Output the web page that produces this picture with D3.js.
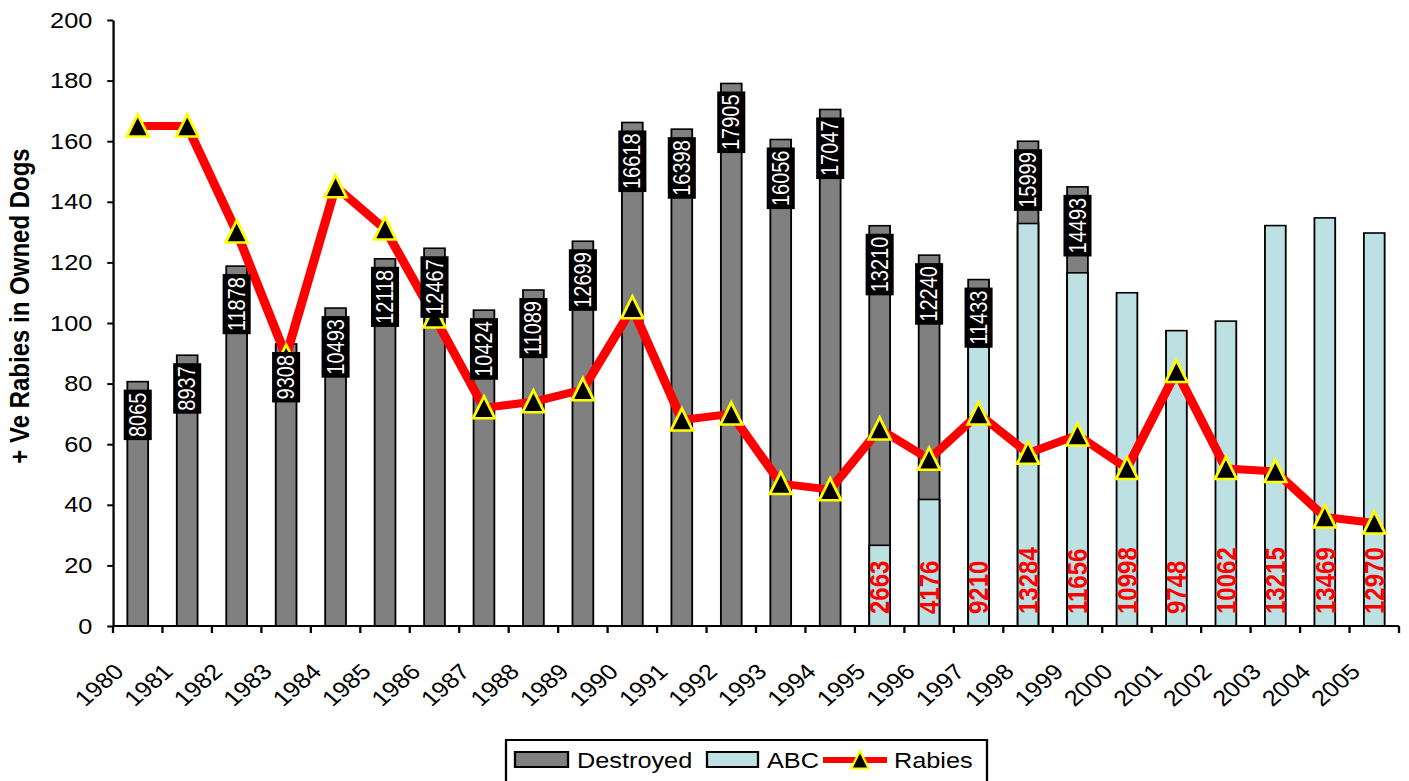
<!DOCTYPE html>
<html>
<head>
<meta charset="utf-8">
<script src="https://cdn.jsdelivr.net/npm/d3@7"></script>
<style>
  body { margin: 0; background: #fff; }
  svg { display: block; }
  text { font-family: Arial, "Liberation Sans", sans-serif; }
</style>
</head>
<body>
<div id="chart"></div>
<script>
var years = ["1980", "1981", "1982", "1983", "1984", "1985", "1986", "1987", "1988", "1989",
             "1990", "1991", "1992", "1993", "1994", "1995", "1996", "1997", "1998", "1999",
             "2000", "2001", "2002", "2003", "2004", "2005"]

var destroyed = [8065, 8937, 11878, 9308, 10493, 12118, 12467, 10424, 11089, 12699,
                 16618, 16398, 17905, 16056, 17047, 13210, 12240, 11433, 15999, 14493,
                 null, null, null, null, null, null]

var abc = [null, null, null, null, null, null, null, null, null, null,
           null, null, null, null, null, 2663, 4176, 9210, 13284, 11656,
           10998, 9748, 10062, 13215, 13469, 12970]

var rabies = [165, 165, 130, 89, 145, 131, 102, 72, 74, 78,
              105, 68, 70, 47, 45, 65, 55, 70, 57, 63,
              52, 84, 52, 51, 36, 34]

var yTicks = [0, 20, 40, 60, 80, 100, 120, 140, 160, 180, 200]

// the original picture is stretched sideways, so draw in a narrower box and stretch it
var k = 1.15,
    width = 1409, height = 781,
    W = width / k

var svg = d3.select("#chart").append("svg")
    .attr("width", width)
    .attr("height", height)
    .attr("viewBox", "0 0 " + W + " " + height)
    .attr("preserveAspectRatio", "none")

var plotL = 113 / k, plotR = 1399 / k, plotT = 20, plotB = 626

var x = d3.scaleBand().domain(years).range([plotL, plotR]).padding(0)
var y = d3.scaleLinear().domain([0, 200]).range([plotB, plotT])
var yCount = d3.scaleLinear().domain([0, 20000]).range([plotB, plotT])

var barW = x.bandwidth() * 0.42
function cx(d) { return x(d) + x.bandwidth() / 2 }

var rows = years.map(function(d, i) {
  return { year: d, destroyed: destroyed[i], abc: abc[i], rabies: rabies[i] }
})

// y axis
var yAxis = svg.append("g")
    .attr("transform", "translate(" + plotL + ",0)")
    .call(d3.axisLeft(y).tickValues(yTicks).tickSize(5).tickSizeOuter(0).tickPadding(13))
yAxis.select(".domain").style("stroke", "#000").style("stroke-width", 2)
yAxis.selectAll(".tick line").style("stroke", "#000").style("stroke-width", 2)
yAxis.selectAll(".tick text")
    .attr("font-size", 22)
    .attr("font-family", "Arial, 'Liberation Sans', sans-serif")
    .attr("fill", "#000")

svg.append("text")
    .attr("transform", "translate(25," + ((145 + 467) / 2) + ") rotate(-90)")
    .attr("text-anchor", "middle")
    .attr("font-size", 24)
    .attr("font-weight", "bold")
    .text("+ Ve Rabies in Owned Dogs")

// destroyed bars, ABC bars in front
svg.selectAll("rect.destroyed")
    .data(rows.filter(function(d) { return d.destroyed != null }))
  .enter().append("rect")
    .attr("class", "destroyed")
    .attr("x", function(d) { return cx(d.year) - barW / 2 })
    .attr("y", function(d) { return yCount(d.destroyed) })
    .attr("width", barW)
    .attr("height", function(d) { return plotB - yCount(d.destroyed) })
    .style("fill", "#808080")
    .style("stroke", "#000")
    .style("stroke-width", 1.6)

svg.selectAll("rect.abc")
    .data(rows.filter(function(d) { return d.abc != null }))
  .enter().append("rect")
    .attr("class", "abc")
    .attr("x", function(d) { return cx(d.year) - barW / 2 })
    .attr("y", function(d) { return yCount(d.abc) })
    .attr("width", barW)
    .attr("height", function(d) { return plotB - yCount(d.abc) })
    .style("fill", "#bde0e3")
    .style("stroke", "#000")
    .style("stroke-width", 1.6)

// x axis with ticks between categories
svg.append("line")
    .attr("x1", plotL).attr("x2", plotR)
    .attr("y1", plotB).attr("y2", plotB)
    .style("stroke", "#000").style("stroke-width", 2)

var bounds = years.map(function(d) { return x(d) }).concat([x.range()[1]])
svg.selectAll("line.xtick")
    .data(bounds)
  .enter().append("line")
    .attr("class", "xtick")
    .attr("x1", function(d) { return d }).attr("x2", function(d) { return d })
    .attr("y1", plotB).attr("y2", plotB + 7)
    .style("stroke", "#000").style("stroke-width", 2)

svg.selectAll("text.xlabel")
    .data(years)
  .enter().append("text")
    .attr("class", "xlabel")
    .attr("transform", function(d) { return "translate(" + (cx(d) - 11) + "," + (plotB + 47) + ") rotate(-45)" })
    .attr("text-anchor", "end")
    .attr("font-size", 22)
    .text(function(d) { return d })

// rabies line
var line = d3.line()
    .x(function(d) { return cx(d.year) })
    .y(function(d) { return y(d.rabies) })

svg.append("path")
    .datum(rows)
    .attr("d", line)
    .style("fill", "none")
    .style("stroke", "#ff0000")
    .style("stroke-width", 8)
    .style("stroke-linejoin", "round")

var tri = "M0,-11.5L9.5,10.5L-9.5,10.5Z"
svg.selectAll("path.marker")
    .data(rows)
  .enter().append("path")
    .attr("class", "marker")
    .attr("transform", function(d) { return "translate(" + cx(d.year) + "," + y(d.rabies) + ")" })
    .attr("d", tri)
    .style("fill", "#000")
    .style("stroke", "#ffff00")
    .style("stroke-width", 2.5)

// destroyed labels: white text on black box near bar top
var dl = svg.selectAll("g.dlabel")
    .data(rows.filter(function(d) { return d.destroyed != null }))
  .enter().append("g")
    .attr("class", "dlabel")

dl.append("text")
    .attr("transform", function(d) { return "translate(" + (cx(d.year) + 7) + "," + (yCount(d.destroyed) + 11) + ") rotate(-90)" })
    .attr("text-anchor", "end")
    .attr("font-size", 20)
    .attr("fill", "#fff")
    .text(function(d) { return d.destroyed })

dl.each(function(d) {
  var g = d3.select(this),
      len = g.select("text").node().getComputedTextLength()
  g.insert("rect", "text")
      .attr("x", cx(d.year) - 12.2)
      .attr("y", yCount(d.destroyed) + 8)
      .attr("width", 24.4)
      .attr("height", len + 6)
      .style("fill", "#000")
})

// ABC labels: red bold text at bar base
svg.selectAll("text.alabel")
    .data(rows.filter(function(d) { return d.abc != null }))
  .enter().append("text")
    .attr("class", "alabel")
    .attr("transform", function(d) { return "translate(" + (cx(d.year) + 8.5) + "," + (plotB - 12) + ") rotate(-90)" })
    .attr("text-anchor", "start")
    .attr("font-size", 24)
    .attr("font-weight", "bold")
    .attr("fill", "#ff0000")
    .text(function(d) { return d.abc })

// legend
var legend = svg.append("g")
legend.append("rect")
    .attr("x", 506 / k).attr("y", 740)
    .attr("width", (987 - 506) / k).attr("height", 50)
    .style("fill", "#fff").style("stroke", "#000").style("stroke-width", 2)

legend.append("rect")
    .attr("x", 515 / k).attr("y", 752)
    .attr("width", 53 / k).attr("height", 15)
    .style("fill", "#808080").style("stroke", "#000").style("stroke-width", 2)
legend.append("text")
    .attr("x", 577 / k).attr("y", 768)
    .attr("font-size", 22)
    .text("Destroyed")

legend.append("rect")
    .attr("x", 707 / k).attr("y", 752)
    .attr("width", 51 / k).attr("height", 15)
    .style("fill", "#bde0e3").style("stroke", "#000").style("stroke-width", 2)
legend.append("text")
    .attr("x", 767 / k).attr("y", 768)
    .attr("font-size", 22)
    .text("ABC")

legend.append("line")
    .attr("x1", 823 / k).attr("x2", 887 / k)
    .attr("y1", 760).attr("y2", 760)
    .style("stroke", "#ff0000").style("stroke-width", 6)
legend.append("path")
    .attr("transform", "translate(" + (860 / k) + ",760) scale(0.8)")
    .attr("d", tri)
    .style("fill", "#000")
    .style("stroke", "#ffff00")
    .style("stroke-width", 2.5)
legend.append("text")
    .attr("x", 894 / k).attr("y", 768)
    .attr("font-size", 22)
    .text("Rabies")
</script>
</body>
</html>
